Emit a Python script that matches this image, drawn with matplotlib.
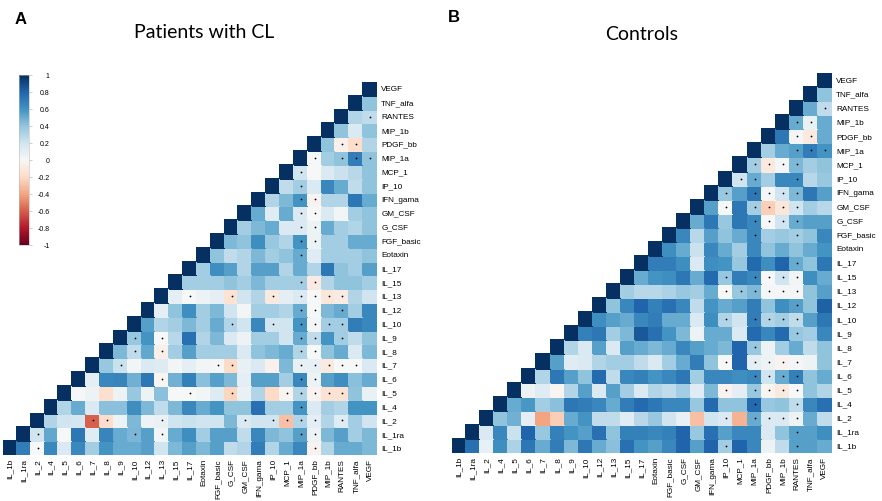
import matplotlib
matplotlib.use("Agg")
import matplotlib.pyplot as plt
import numpy as np

labels = ["IL_1b", "IL_1ra", "IL_2", "IL_4", "IL_5", "IL_6", "IL_7", "IL_8", "IL_9",
          "IL_10", "IL_12", "IL_13", "IL_15", "IL_17", "Eotaxin", "FGF_basic", "G_CSF",
          "GM_CSF", "IFN_gama", "IP_10", "MCP_1", "MIP_1a", "PDGF_bb", "MIP_1b",
          "RANTES", "TNF_alfa", "VEGF"]

# row r holds the correlations of labels[r] with labels[r+1:]
cl_rows = [
    [0.7, 0.0, 0.65, 0.15, 0.65, 0.35, 0.6, 0.5, 0.5, 0.55, 0.2, 0.45, 0.55, 0.45, 0.55, 0.25, 0.3, 0.7, 0.3, 0.5, 0.65, -0.03, 0.3, 0.5, 0.5, 0.45],
    [0.2, 0.52, 0.0, 0.72, 0.12, 0.66, 0.5, 0.46, 0.55, 0.03, 0.5, 0.62, 0.35, 0.55, 0.55, 0.25, 0.65, 0.45, 0.4, 0.55, 0.05, 0.45, 0.55, 0.35, 0.45],
    [0.3, 0.2, 0.18, -0.6, -0.18, 0.05, 0.45, 0.06, 0.07, 0.2, 0.22, 0.2, 0.2, 0.45, 0.15, 0.2, 0.2, -0.3, 0.3, 0.1, 0.3, 0.12, 0.35, 0.2],
    [0.3, 0.5, 0.15, 0.42, 0.42, 0.62, 0.45, 0.25, 0.45, 0.65, 0.5, 0.6, 0.4, 0.4, 0.75, 0.35, 0.35, 0.6, 0.15, 0.35, 0.3, 0.6, 0.6],
    [0.01, 0.05, -0.17, 0.05, 0.38, 0.05, 0.42, 0.0, 0.0, 0.03, 0.13, -0.22, 0.07, 0.3, -0.2, -0.02, 0.3, -0.03, -0.15, -0.15, 0.4, 0.07],
    [0.1, 0.65, 0.66, 0.48, 0.72, -0.02, 0.48, 0.68, 0.42, 0.55, 0.45, 0.1, 0.55, 0.55, 0.35, 0.65, 0.05, 0.55, 0.62, 0.42, 0.5],
    [0.38, 0.22, 0.03, 0.15, 0.13, 0.03, 0.1, 0.03, 0.02, -0.2, 0.08, 0.15, -0.05, 0.45, 0.08, 0.08, -0.1, 0.0, 0.0, 0.15],
    [0.45, 0.25, 0.52, -0.06, 0.35, 0.55, 0.35, 0.35, 0.35, 0.15, 0.4, 0.45, 0.5, 0.3, 0.0, 0.4, 0.5, 0.15, 0.45],
    [0.38, 0.6, 0.0, 0.28, 0.75, 0.3, 0.45, 0.15, 0.05, 0.35, 0.35, 0.2, 0.5, 0.25, 0.6, 0.35, 0.25, 0.4],
    [0.55, 0.3, 0.35, 0.45, 0.35, 0.5, 0.3, 0.2, 0.65, 0.2, 0.2, 0.6, 0.02, 0.35, 0.35, 0.7, 0.65],
    [0.1, 0.4, 0.62, 0.35, 0.45, 0.2, 0.03, 0.35, 0.35, 0.3, 0.5, 0.0, 0.45, 0.5, 0.35, 0.65],
    [0.1, 0.0, 0.05, 0.1, -0.15, 0.2, 0.3, -0.1, 0.1, 0.15, 0.0, -0.12, -0.08, 0.3, 0.2],
    [0.35, 0.35, 0.35, 0.4, 0.35, 0.45, 0.35, 0.35, 0.35, -0.08, 0.3, 0.4, 0.4, 0.35],
    [0.35, 0.62, 0.55, 0.3, 0.55, 0.55, 0.3, 0.5, 0.3, 0.72, 0.4, 0.35, 0.55],
    [0.4, 0.25, 0.3, 0.45, 0.35, 0.4, 0.5, 0.12, 0.35, 0.35, 0.35, 0.4],
    [0.45, 0.4, 0.62, 0.38, 0.3, 0.6, 0.05, 0.35, 0.35, 0.5, 0.5],
    [0.35, 0.45, 0.5, 0.15, 0.15, 0.05, 0.5, 0.35, 0.3, 0.4],
    [0.5, 0.12, 0.5, 0.15, 0.0, 0.15, 0.03, 0.35, 0.4],
    [0.3, 0.45, 0.6, -0.03, 0.3, 0.3, 0.72, 0.5],
    [0.25, 0.35, 0.15, 0.65, 0.5, 0.25, 0.4],
    [0.2, 0.0, 0.15, 0.22, 0.28, 0.4],
    [0.0, 0.35, 0.4, 0.7, 0.4],
    [0.4, -0.05, -0.18, 0.3],
    [0.4, 0.15, 0.4],
    [0.3, 0.25],
    [0.4],
]

ctrl_rows = [
    [0.75, 0.08, 0.62, 0.32, 0.72, 0.5, 0.7, 0.45, 0.72, 0.5, 0.42, 0.75, 0.6, 0.55, 0.65, 0.8, 0.55, 0.8, 0.35, 0.8, 0.65, 0.05, 0.25, 0.55, 0.55, 0.5],
    [0.15, 0.65, 0.22, 0.8, 0.38, 0.68, 0.6, 0.55, 0.75, 0.4, 0.68, 0.68, 0.65, 0.68, 0.8, 0.38, 0.75, 0.55, 0.65, 0.65, 0.15, 0.4, 0.55, 0.55, 0.62],
    [0.4, 0.48, 0.1, -0.4, -0.25, 0.5, 0.6, 0.25, 0.25, 0.12, 0.28, 0.38, 0.2, 0.08, -0.3, 0.2, 0.15, -0.35, 0.5, 0.15, 0.15, 0.05, 0.5, 0.25],
    [0.5, 0.58, 0.35, 0.42, 0.72, 0.7, 0.65, 0.5, 0.7, 0.78, 0.72, 0.65, 0.65, 0.38, 0.78, 0.4, 0.4, 0.78, 0.38, 0.4, 0.25, 0.65, 0.75],
    [0.05, 0.12, -0.02, 0.3, 0.55, 0.15, 0.55, 0.35, 0.15, 0.3, 0.25, 0.35, 0.12, 0.45, -0.03, 0.1, 0.38, -0.02, -0.1, 0.0, 0.4, 0.3],
    [0.3, 0.72, 0.55, 0.4, 0.78, 0.25, 0.65, 0.68, 0.6, 0.65, 0.72, 0.35, 0.65, 0.65, 0.62, 0.65, 0.2, 0.5, 0.68, 0.4, 0.5],
    [0.55, 0.12, 0.15, 0.3, 0.35, 0.35, 0.25, 0.15, 0.35, 0.5, 0.7, 0.4, 0.0, 0.8, 0.1, 0.05, -0.03, 0.02, 0.05, 0.4],
    [0.3, 0.15, 0.55, 0.15, 0.55, 0.5, 0.45, 0.5, 0.65, 0.55, 0.5, 0.45, 0.8, 0.38, 0.05, 0.35, 0.5, 0.25, 0.4],
    [0.68, 0.72, 0.35, 0.45, 0.85, 0.75, 0.6, 0.45, 0.05, 0.5, 0.5, 0.15, 0.78, 0.65, 0.78, 0.38, 0.35, 0.65],
    [0.62, 0.55, 0.5, 0.65, 0.7, 0.5, 0.5, 0.15, 0.62, 0.3, 0.2, 0.7, 0.3, 0.35, 0.25, 0.55, 0.72],
    [0.4, 0.65, 0.8, 0.68, 0.75, 0.65, 0.25, 0.6, 0.5, 0.55, 0.7, 0.4, 0.62, 0.55, 0.4, 0.82],
    [0.35, 0.28, 0.28, 0.32, 0.38, 0.35, 0.5, 0.0, 0.38, 0.45, 0.02, 0.02, 0.02, 0.4, 0.55],
    [0.5, 0.6, 0.62, 0.72, 0.5, 0.78, 0.38, 0.7, 0.65, 0.0, 0.2, 0.03, 0.62, 0.5],
    [0.7, 0.7, 0.62, 0.15, 0.62, 0.6, 0.38, 0.78, 0.62, 0.8, 0.5, 0.4, 0.72],
    [0.62, 0.5, 0.22, 0.65, 0.5, 0.35, 0.65, 0.4, 0.5, 0.4, 0.5, 0.6],
    [0.65, 0.28, 0.55, 0.4, 0.5, 0.65, 0.35, 0.38, 0.35, 0.4, 0.65],
    [0.5, 0.72, 0.38, 0.72, 0.65, 0.0, 0.2, 0.5, 0.55, 0.55],
    [0.55, 0.0, 0.72, 0.35, -0.25, -0.12, 0.2, 0.35, 0.28],
    [0.38, 0.55, 0.72, 0.02, 0.2, 0.45, 0.72, 0.55],
    [0.2, 0.5, 0.35, 0.65, 0.65, 0.28, 0.38],
    [0.35, -0.1, 0.02, 0.45, 0.35, 0.4],
    [0.35, 0.5, 0.55, 0.7, 0.6],
    [0.72, 0.02, -0.1, 0.5],
    [0.5, 0.07, 0.5],
    [0.5, 0.25],
    [0.4],
]

# cells marked with a dot: row index -> column indices
cl_dots = {0: [2, 22], 1: [2, 9, 11, 21, 22], 2: [6, 7, 11, 17, 19, 20, 21, 22, 24],
           3: [21], 4: [13, 16, 20, 21, 22, 23, 24], 5: [11, 21, 22],
           6: [8, 15, 16, 21, 22, 23, 24, 25], 7: [9, 11, 21, 22], 8: [9, 11, 21, 22, 24],
           9: [16, 19, 21, 22, 23, 24], 10: [21, 22, 24], 11: [13, 16, 19, 21, 22, 23, 24],
           12: [21, 22], 14: [21], 15: [21, 22], 16: [21, 22], 17: [21, 22], 18: [21, 22],
           19: [21], 20: [21], 21: [22, 24, 25, 26], 22: [24, 25], 24: [26]}

ctrl_dots = {0: [19, 24], 1: [24], 2: [19, 21, 22, 23, 24], 3: [21, 24],
             4: [19, 21, 22, 23, 24], 5: [21, 22, 23, 24], 6: [19, 21, 22, 23, 24], 7: [21],
             8: [24], 9: [19, 21, 22, 23, 24], 10: [24], 11: [19, 20, 21, 22, 23, 24],
             12: [19, 21, 22, 23, 24], 13: [24], 15: [21, 24], 16: [21, 22, 23, 24],
             17: [19, 21, 22, 23, 24], 18: [19, 21, 22, 23, 24], 19: [20, 21, 24],
             20: [21, 22, 23, 24], 21: [24, 25, 26], 22: [24, 25], 23: [24, 25], 24: [26]}

W, H = 882, 501
TICK_FONT = ["Liberation Sans", "DejaVu Sans"]


def px_axes(fig, x0, y0, x1, y1):
    # axes from pixel box (top-left origin)
    return fig.add_axes([x0 / W, 1 - y1 / H, (x1 - x0) / W, (y1 - y0) / H])


def build_matrix(rows):
    n = len(labels)
    mat = np.full((n, n), np.nan)
    for r in range(n):
        mat[r, r] = 1.0
        if r < len(rows):
            mat[r, r + 1:] = rows[r]
    return np.ma.masked_invalid(mat)


def draw_panel(ax, rows, dots):
    n = len(labels)
    mat = build_matrix(rows)
    mesh = ax.pcolormesh(np.arange(n + 1), np.arange(n + 1), mat, cmap="RdBu",
                         vmin=-1, vmax=1, edgecolors="face", linewidth=0.1)
    xs, ys = [], []
    for r, cols in dots.items():
        for c in cols:
            xs.append(c + 0.5)
            ys.append(r + 0.5)
    ax.scatter(xs, ys, s=1.6, color="black", linewidths=0)

    ax.set_xlim(0, n)
    ax.set_ylim(0, n)
    ax.set_xticks(np.arange(n) + 0.5)
    ax.set_xticklabels(labels, rotation=90, fontsize=5.9, family=TICK_FONT, va="top")
    ax.yaxis.tick_right()
    ax.set_yticks(np.arange(n) + 0.5)
    ax.set_yticklabels(labels, fontsize=5.9, family=TICK_FONT)
    ax.tick_params(length=0, pad=3)
    for s in ax.spines.values():
        s.set_visible(False)
    return mesh


fig = plt.figure(figsize=(W / 100, H / 100), dpi=100)

ax_a = px_axes(fig, 3, 82, 377, 455)
mesh = draw_panel(ax_a, cl_rows, cl_dots)

ax_b = px_axes(fig, 452, 73, 832, 453)
draw_panel(ax_b, ctrl_rows, ctrl_dots)

# colorbar
cax = px_axes(fig, 19, 75, 29, 245)
cb = fig.colorbar(mesh, cax=cax, ticks=np.linspace(-1, 1, 11))
cb.ax.set_yticklabels(["-1", "-0.8", "-0.6", "-0.4", "-0.2", "0", "0.2", "0.4", "0.6", "0.8", "1"],
                      fontsize=5, family=TICK_FONT, ha="right")
cb.ax.tick_params(length=2, width=0.4, color="#aaaaaa", pad=13)
cb.outline.set_linewidth(0.4)
cb.outline.set_edgecolor("#bbbbbb")

# titles and panel letters
fig.text(204 / W, 1 - 33 / H, "Patients with CL", fontsize=14, family=["Lato", "DejaVu Sans"],
         ha="center", va="center")
fig.text(642 / W, 1 - 35 / H, "Controls", fontsize=14, family=["Lato", "DejaVu Sans"],
         ha="center", va="center")
fig.text(15 / W, 1 - 19 / H, "A", fontsize=12, fontweight="bold", family=TICK_FONT,
         ha="left", va="center")
fig.text(448 / W, 1 - 18 / H, "B", fontsize=12, fontweight="bold", family=TICK_FONT,
         ha="left", va="center")

fig.savefig("out.png", dpi=100)
